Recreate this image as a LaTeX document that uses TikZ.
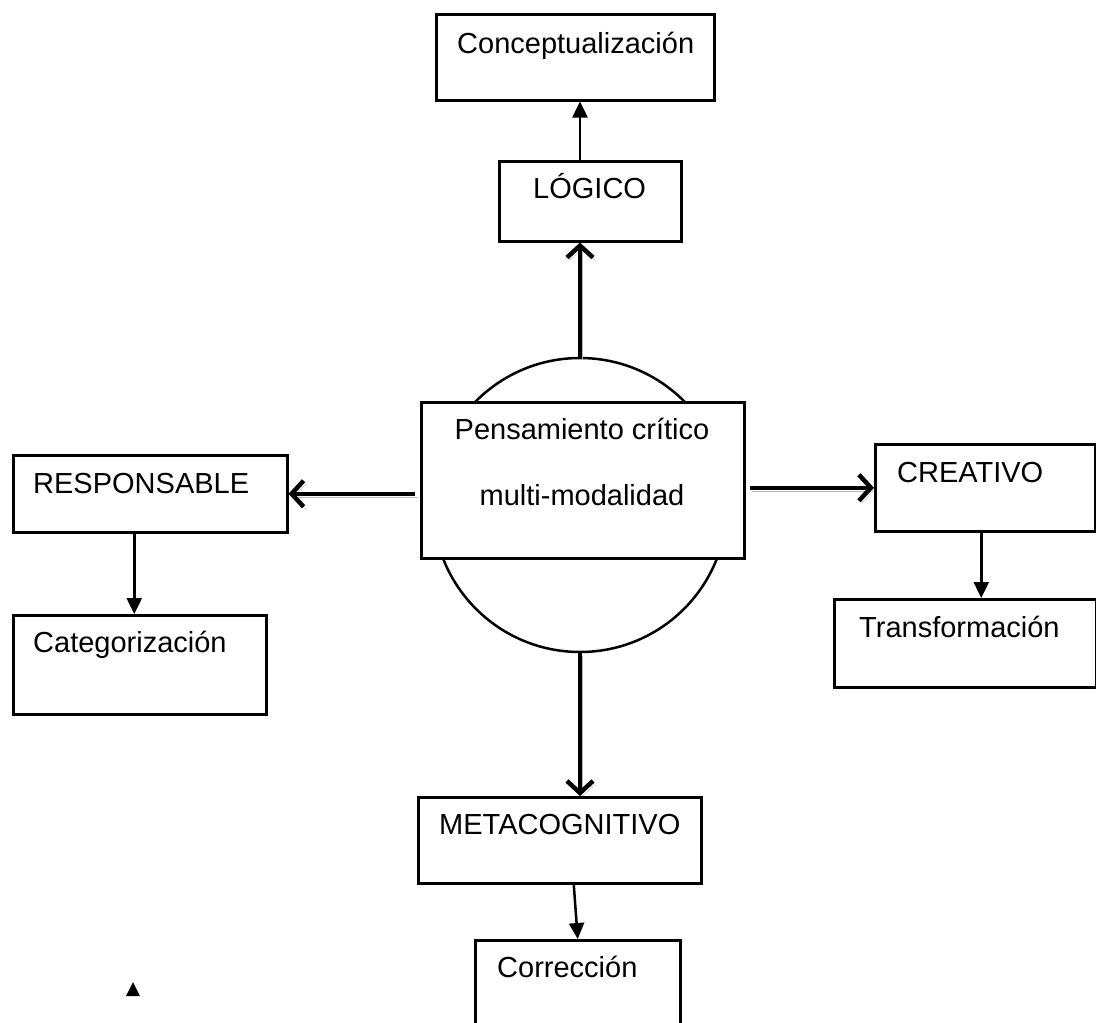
\documentclass[tikz,border=0pt]{standalone}
\usepackage{fontspec}
\setmainfont{Liberation Sans}
\usetikzlibrary{arrows.meta}

\begin{document}
\begin{tikzpicture}[x=1pt,y=-1pt,
caja/.style={draw, line width=2.5pt, fill=white, anchor=north west, inner sep=0pt},
texto/.style={anchor=base west, inner sep=0pt, font=\fontsize{29}{35}\selectfont},
flecha/.style={line width=2.5pt, -{Triangle[length=16pt,width=15pt]}},
gruesa/.style={line width=4.5pt, -{Straight Barb[length=12pt,width=26pt]},
  preaction={draw=gray!55, transform canvas={shift={(2.5pt,-3pt)}}}}]
\useasboundingbox (0,0) rectangle (1096,1023);
\clip (0,0) rectangle (1096,1023);
% centro
\node [circle, draw, line width=2.5pt, minimum size=294pt, inner sep=0pt] (circ) at (580,505) {};
\node [caja, minimum width=323pt, minimum height=156pt] (centro) at (420,401) {};
\node [texto, anchor=base] (t1) at (582,439) {Pensamiento crítico};
\node [texto, anchor=base] (t2) at (582,505) {multi-modalidad};
% cajas
\node [caja, minimum width=278pt, minimum height=86pt] (concep) at (435,13) {};
\node [caja, minimum width=182pt, minimum height=80pt] (logico) at (498,160) {};
\node [caja, minimum width=274pt, minimum height=77pt] (resp) at (12,454) {};
\node [caja, minimum width=253pt, minimum height=99pt] (cat) at (12,614) {};
\node [caja, minimum width=220pt, minimum height=87pt] (crea) at (874,443) {};
\node [caja, minimum width=262pt, minimum height=88pt] (trans) at (833,598) {};
\node [caja, minimum width=283pt, minimum height=86pt] (meta) at (417,796) {};
\node [caja, minimum width=205pt, minimum height=110pt] (corr) at (474,939) {};
% textos
\node [texto] (tconcep) at (457,53) {Conceptualización};
\node [texto] (tlogico) at (533,198) {LÓGICO};
\node [texto] (tresp) at (33,493) {RESPONSABLE};
\node [texto] (tcat) at (33,652) {Categorización};
\node [texto] (tcrea) at (897,482) {CREATIVO};
\node [texto] (ttrans) at (859,637) {Transformación};
\node [texto] (tmeta) at (439,834) {METACOGNITIVO};
\node [texto] (tcorr) at (497,977) {Corrección};
% flechas gruesas
\draw [gruesa] (circ.north) -- (circ.north |- logico.south);
\draw [gruesa] ([xshift=-5pt]centro.west |- resp.east) -- (resp.east);
\draw [gruesa] ([xshift=4pt]centro.east |- crea.west) -- (crea.west);
\draw [gruesa] (circ.south) -- (circ.south |- meta.north);
% flechas finas
\draw [flecha] (circ.north |- logico.north) -- (circ.north |- concep.south);
\draw [flecha] ([xshift=-16pt]resp.south) -- ([xshift=-16pt]resp.south |- cat.north);
\draw [flecha] ([xshift=-4pt]crea.south) -- ([xshift=-4pt]crea.south |- trans.north);
\draw [flecha] ([xshift=14pt]meta.south) -- (corr.north);
\fill (133,982) -- (126,996) -- (140,996) -- cycle;
\end{tikzpicture}
\end{document}
